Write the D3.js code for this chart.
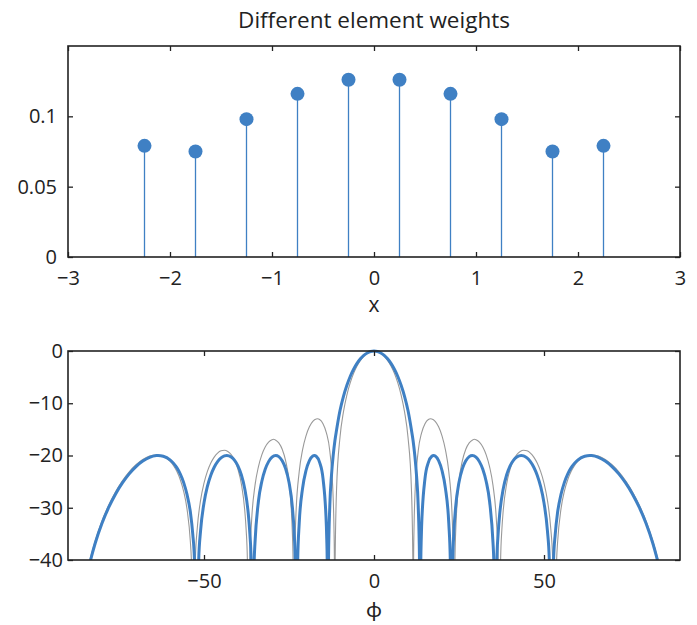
<!DOCTYPE html>
<html>
<head>
<meta charset="utf-8">
<script src="https://cdn.jsdelivr.net/npm/d3@7"></script>
<style>
  html, body { margin: 0; padding: 0; background: #fff; }
  svg text { font-family: "Open Sans", Lato, "DejaVu Sans", sans-serif; fill: #222; }
</style>
</head>
<body>
<svg id="chart" width="697" height="625"></svg>
<script>
// ---------- data ----------
const titleText = "Different element weights";
const elementX = [-2.25, -1.75, -1.25, -0.75, -0.25, 0.25, 0.75, 1.25, 1.75, 2.25];
const elementW = [0.079, 0.075, 0.098, 0.116, 0.126, 0.126, 0.116, 0.098, 0.075, 0.079];
const topXTicks = [-3, -2, -1, 0, 1, 2, 3];
const topYTicks = [0, 0.05, 0.1];
const botXTicks = [-50, 0, 50];
const botYTicks = [-40, -30, -20, -10, 0];

// uniform-weight pattern (grey), [phi in degrees, dB]
const grayPattern = [
[-83.53,-40],[-83,-38.66],[-82,-36.35],[-80,-32.53],[-78,-29.46],[-76,-26.93],[-74,-24.84],[-72,-23.13],[-70,-21.77],[-68,-20.76],[-66,-20.12],[-64,-19.89],[-62,-20.17],[-60,-21.10],[-59,-21.91],[-58,-23.03],[-57,-24.59],[-56,-26.80],[-55,-30.21],[-54,-36.60],[-53.71,-40],[-53.13,-60],[-52.55,-40],[-52,-34.06],[-51,-28.55],[-50,-25.28],[-49,-23.04],[-48,-21.44],[-47,-20.30],[-46,-19.53],[-45,-19.10],[-44,-18.99],[-43,-19.22],[-42,-19.83],[-41,-20.92],[-40,-22.67],[-39,-25.48],[-38,-30.58],[-37.6,-34.24],[-37.24,-40],[-36.87,-60],[-36.51,-40],[-36,-32.43],[-35,-25.72],[-34,-22.17],[-33,-19.89],[-32,-18.38],[-31,-17.44],[-30,-16.99],[-29.5,-16.90],[-29,-17.03],[-28,-17.59],[-27,-18.81],[-26,-20.99],[-25,-24.96],[-24,-35.03],[-23.81,-40],[-23.58,-60],[-23.35,-40],[-23,-31.98],[-22,-23.10],[-21,-18.86],[-20,-16.23],[-19,-14.51],[-18,-13.47],[-17,-13.00],[-16.6,-12.97],[-16,-13.11],[-15,-13.90],[-14,-15.65],[-13,-19.14],[-12,-28.26],[-11.8,-33.01],[-11.65,-40],[-11.54,-60],[-11.42,-40],[-11,-26.25],[-10,-16.52],[-9,-11.70],[-8,-8.48],[-7,-6.11],[-6,-4.29],[-5,-2.88],[-4,-1.80],[-3,-0.99],[-2,-0.44],[-1,-0.11],
[0,0],
[1,-0.11],[2,-0.44],[3,-0.99],[4,-1.80],[5,-2.88],[6,-4.29],[7,-6.11],[8,-8.48],[9,-11.70],[10,-16.52],[11,-26.25],[11.42,-40],[11.54,-60],[11.65,-40],[11.8,-33.01],[12,-28.26],[13,-19.14],[14,-15.65],[15,-13.90],[16,-13.11],[16.6,-12.97],[17,-13.00],[18,-13.47],[19,-14.51],[20,-16.23],[21,-18.86],[22,-23.10],[23,-31.98],[23.35,-40],[23.58,-60],[23.81,-40],[24,-35.03],[25,-24.96],[26,-20.99],[27,-18.81],[28,-17.59],[29,-17.03],[29.5,-16.90],[30,-16.99],[31,-17.44],[32,-18.38],[33,-19.89],[34,-22.17],[35,-25.72],[36,-32.43],[36.51,-40],[36.87,-60],[37.24,-40],[37.6,-34.24],[38,-30.58],[39,-25.48],[40,-22.67],[41,-20.92],[42,-19.83],[43,-19.22],[44,-18.99],[45,-19.10],[46,-19.53],[47,-20.30],[48,-21.44],[49,-23.04],[50,-25.28],[51,-28.55],[52,-34.06],[52.55,-40],[53.13,-60],[53.71,-40],[54,-36.60],[55,-30.21],[56,-26.80],[57,-24.59],[58,-23.03],[59,-21.91],[60,-21.10],[62,-20.17],[64,-19.89],[66,-20.12],[68,-20.76],[70,-21.77],[72,-23.13],[74,-24.84],[76,-26.93],[78,-29.46],[80,-32.53],[82,-36.35],[83,-38.66],[83.53,-40]
];

// weighted pattern (blue), [phi in degrees, dB]
const bluePattern = [
[-83.36,-40],[-83,-39.10],[-82,-36.79],[-80,-32.97],[-78,-29.89],[-76,-27.35],[-74,-25.25],[-72,-23.51],[-70,-22.12],[-68,-21.06],[-66,-20.35],[-64,-20.02],[-63.5,-20.00],[-62,-20.14],[-60,-20.83],[-59,-21.46],[-58,-22.32],[-57,-23.51],[-56,-25.14],[-55,-27.45],[-54,-30.87],[-53.3,-35.08],[-52.81,-40],[-52.18,-60],[-51.56,-40],[-51,-34.35],[-50,-29.07],[-49,-25.91],[-48,-23.77],[-47,-22.24],[-46,-21.17],[-45,-20.46],[-44,-20.08],[-43.31,-20.00],[-42,-20.29],[-41,-20.93],[-40,-22.02],[-39,-23.73],[-38,-26.41],[-37,-30.99],[-36.5,-35.04],[-36.14,-40],[-35.68,-60],[-35.23,-40],[-35,-36.68],[-34,-28.80],[-33,-24.97],[-32,-22.63],[-31,-21.17],[-30,-20.32],[-28.9,-20.00],[-28,-20.21],[-27,-21.02],[-26,-22.52],[-25,-25.11],[-24,-29.93],[-23.5,-34.58],[-23.18,-40],[-22.81,-60],[-22.44,-40],[-22,-33.02],[-21,-26.24],[-20,-22.87],[-19,-20.98],[-18,-20.10],[-17.54,-20.00],[-17,-20.14],[-16,-21.31],[-15,-24.39],[-14,-33.64],[-13.9,-35.92],[-13.77,-40],[-13.58,-60],[-13.38,-40],[-13,-29.64],[-12.5,-23.76],[-12,-19.99],[-11.5,-17.17],[-11,-15.08],[-10,-11.40],[-9,-8.72],[-8,-6.60],[-7,-4.88],[-6,-3.50],[-5,-2.38],[-4,-1.50],[-3,-0.83],[-2,-0.37],[-1,-0.09],
[0,0],
[1,-0.09],[2,-0.37],[3,-0.83],[4,-1.50],[5,-2.38],[6,-3.50],[7,-4.88],[8,-6.60],[9,-8.72],[10,-11.40],[11,-15.08],[11.5,-17.17],[12,-19.99],[12.5,-23.76],[13,-29.64],[13.38,-40],[13.58,-60],[13.77,-40],[13.9,-35.92],[14,-33.64],[15,-24.39],[16,-21.31],[17,-20.14],[17.54,-20.00],[18,-20.10],[19,-20.98],[20,-22.87],[21,-26.24],[22,-33.02],[22.44,-40],[22.81,-60],[23.18,-40],[23.5,-34.58],[24,-29.93],[25,-25.11],[26,-22.52],[27,-21.02],[28,-20.21],[28.9,-20.00],[30,-20.32],[31,-21.17],[32,-22.63],[33,-24.97],[34,-28.80],[35,-36.68],[35.23,-40],[35.68,-60],[36.14,-40],[36.5,-35.04],[37,-30.99],[38,-26.41],[39,-23.73],[40,-22.02],[41,-20.93],[42,-20.29],[43.31,-20.00],[44,-20.08],[45,-20.46],[46,-21.17],[47,-22.24],[48,-23.77],[49,-25.91],[50,-29.07],[51,-34.35],[51.56,-40],[52.18,-60],[52.81,-40],[53.3,-35.08],[54,-30.87],[55,-27.45],[56,-25.14],[57,-23.51],[58,-22.32],[59,-21.46],[60,-20.83],[62,-20.14],[63.5,-20.00],[64,-20.02],[66,-20.35],[68,-21.06],[70,-22.12],[72,-23.51],[74,-25.25],[76,-27.35],[78,-29.89],[80,-32.97],[82,-36.79],[83,-39.10],[83.36,-40]
];

// ---------- layout ----------
const svg = d3.select("#chart");
const axisColor = "#222";
const blue = "#3f80c4";
const tickFont = 20;
const fmt = d3.format("~g");

const topBox = {x0: 68, x1: 680, y0: 46, y1: 257};
const botBox = {x0: 68, x1: 680, y0: 351, y1: 560};

function frameAxes(g, box, xs, ys, xt, yt, yPad) {
  const tk = 5;
  const bx = g.append("g").attr("transform", `translate(0,${box.y1})`)
    .call(d3.axisBottom(xs).tickValues(xt).tickFormat(fmt).tickSizeInner(-tk).tickSizeOuter(0).tickPadding(14));
  const tx = g.append("g").attr("transform", `translate(0,${box.y0})`)
    .call(d3.axisTop(xs).tickValues(xt).tickFormat("").tickSizeInner(-tk).tickSizeOuter(0));
  const ly = g.append("g").attr("transform", `translate(${box.x0},0)`)
    .call(d3.axisLeft(ys).tickValues(yt).tickFormat(fmt).tickSizeInner(-tk).tickSizeOuter(0).tickPadding(yPad));
  const ry = g.append("g").attr("transform", `translate(${box.x1},0)`)
    .call(d3.axisRight(ys).tickValues(yt).tickFormat("").tickSizeInner(-tk).tickSizeOuter(0));
  [bx, tx, ly, ry].forEach(a => {
    a.select(".domain").remove();
    a.selectAll(".tick line").attr("stroke", axisColor).attr("stroke-width", 1.3);
    a.selectAll("text").attr("font-size", tickFont).attr("font-family", null).style("fill", axisColor);
  });
  g.append("rect").attr("x", box.x0).attr("y", box.y0)
    .attr("width", box.x1 - box.x0).attr("height", box.y1 - box.y0)
    .attr("fill", "none").attr("stroke", axisColor).attr("stroke-width", 1.6);
}

// ---------- top: stem plot ----------
const xTop = d3.scaleLinear().domain([-3, 3]).range([topBox.x0, topBox.x1]);
const yTop = d3.scaleLinear().domain([0, 0.15]).range([topBox.y1, topBox.y0]);
const gTop = svg.append("g");

const stems = elementX.map((x, i) => ({x, w: elementW[i]}));
gTop.selectAll("line.stem").data(stems).join("line").attr("class", "stem")
  .attr("x1", d => xTop(d.x)).attr("x2", d => xTop(d.x))
  .attr("y1", yTop(0)).attr("y2", d => yTop(d.w))
  .attr("stroke", blue).attr("stroke-width", 1.3);
frameAxes(gTop, topBox, xTop, yTop, topXTicks, topYTicks, 11);
gTop.selectAll("circle.dot").data(stems).join("circle").attr("class", "dot")
  .attr("cx", d => xTop(d.x)).attr("cy", d => yTop(d.w)).attr("r", 7)
  .attr("fill", blue);

svg.append("text").attr("x", 374).attr("y", 28).attr("text-anchor", "middle")
  .attr("font-size", 22.5).text(titleText);
svg.append("text").attr("x", 374).attr("y", 312).attr("text-anchor", "middle")
  .attr("font-size", tickFont + 1).text("x");

// ---------- bottom: patterns ----------
const xBot = d3.scaleLinear().domain([-90, 90]).range([botBox.x0, botBox.x1]);
const yBot = d3.scaleLinear().domain([-40, 0]).range([botBox.y1, botBox.y0]);
const gBot = svg.append("g");

svg.append("defs").append("clipPath").attr("id", "clipBot")
  .append("rect").attr("x", botBox.x0).attr("y", botBox.y0 - 3)
  .attr("width", botBox.x1 - botBox.x0).attr("height", botBox.y1 - botBox.y0 + 3);

const line = d3.line().x(d => xBot(d[0])).y(d => yBot(d[1])).curve(d3.curveMonotoneX);
const gCurves = gBot.append("g").attr("clip-path", "url(#clipBot)");
gCurves.append("path").datum(grayPattern).attr("d", line)
  .attr("fill", "none").attr("stroke", "#999").attr("stroke-width", 1.1);
gCurves.append("path").datum(bluePattern).attr("d", line)
  .attr("fill", "none").attr("stroke", blue).attr("stroke-width", 3);

frameAxes(gBot, botBox, xBot, yBot, botXTicks, botYTicks, 5);

svg.append("text").attr("x", 374).attr("y", 617).attr("text-anchor", "middle")
  .attr("font-size", tickFont + 1).text("ϕ");
</script>
</body>
</html>
